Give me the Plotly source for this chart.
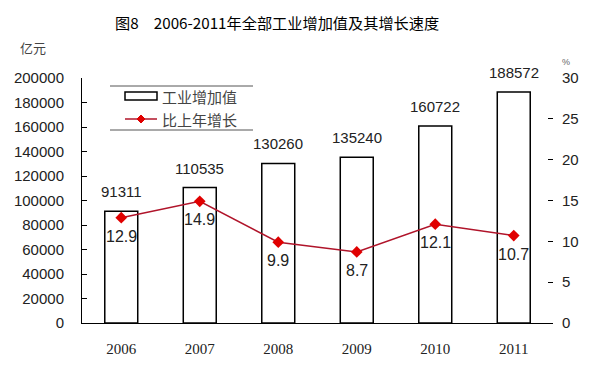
import plotly.graph_objects as go

years = ["2006", "2007", "2008", "2009", "2010", "2011"]
value_added = [91311, 110535, 130260, 135240, 160722, 188572]
growth = [12.9, 14.9, 9.9, 8.7, 12.1, 10.7]
left_ticks = [0, 20000, 40000, 60000, 80000, 100000, 120000, 140000, 160000, 180000, 200000]
right_ticks = [0, 5, 10, 15, 20, 25, 30]

W, H = 600, 369
L, R, T, B = 82, 553, 78, 323

xpos = list(range(len(years)))


def px(x):
    return (x - L) / (R - L)


def py(y):
    return (B - y) / (B - T)


fig = go.Figure()
fig.add_trace(go.Bar(
    x=xpos, y=value_added, name="工业增加值",
    marker=dict(color="white", line=dict(color="black", width=1.5)),
    width=0.42, showlegend=False,
))
fig.add_trace(go.Scatter(
    x=xpos, y=growth, name="比上年增长", yaxis="y2",
    mode="lines+markers",
    line=dict(color="#b0142a", width=1.5),
    marker=dict(symbol="diamond", size=9, color="#e00000"),
    showlegend=False,
))

annotations = []
for i, v in zip(xpos, value_added):
    annotations.append(dict(
        x=i, y=v, xref="x", yref="y", text=str(v), showarrow=False,
        yanchor="bottom", yshift=9,
        font=dict(family="Liberation Sans, Arial", size=15, color="#222"),
    ))
for i, g in zip(xpos, growth):
    annotations.append(dict(
        x=i, y=g, xref="x", yref="y2", text=f"{g:.1f}", showarrow=False,
        yanchor="top", yshift=-8,
        font=dict(family="Liberation Sans, Arial", size=16, color="#222"),
    ))

# title and unit labels
annotations.append(dict(
    x=px(277), y=py(22), xref="paper", yref="paper",
    text="图8　2006-2011年全部工业增加值及其增长速度", showarrow=False,
    font=dict(family="Noto Sans CJK SC", size=15.2, color="black"),
    xanchor="center", yanchor="middle",
))
annotations.append(dict(
    x=px(18), y=py(47), xref="paper", yref="paper", text="亿元",
    showarrow=False, xanchor="left", yanchor="middle",
    font=dict(family="Noto Sans CJK SC", size=13, color="#444"),
))
annotations.append(dict(
    x=px(566), y=py(62), xref="paper", yref="paper", text="%",
    showarrow=False, xanchor="center", yanchor="middle",
    font=dict(family="Liberation Sans", size=9, color="#666"),
))
# legend texts
annotations.append(dict(
    x=px(160), y=py(96), xref="paper", yref="paper", text="工业增加值",
    showarrow=False, xanchor="left", yanchor="middle",
    font=dict(family="Noto Sans CJK SC", size=15, color="#444"),
))
annotations.append(dict(
    x=px(160), y=py(119), xref="paper", yref="paper", text="比上年增长",
    showarrow=False, xanchor="left", yanchor="middle",
    font=dict(family="Noto Sans CJK SC", size=15, color="#444"),
))

shapes = [
    dict(type="line", xref="paper", yref="paper", x0=px(110), x1=px(253),
         y0=py(86), y1=py(86), line=dict(color="#555", width=1)),
    dict(type="line", xref="paper", yref="paper", x0=px(110), x1=px(253),
         y0=py(130), y1=py(130), line=dict(color="#555", width=1)),
    dict(type="rect", xref="paper", yref="paper", x0=px(125), x1=px(157),
         y0=py(92), y1=py(100), line=dict(color="black", width=1.5), fillcolor="white"),
    dict(type="line", xref="paper", yref="paper", x0=px(125), x1=px(157),
         y0=py(119), y1=py(119), line=dict(color="#b0142a", width=1.5)),
    dict(type="path", xref="paper", yref="paper",
         path=f"M {px(137)},{py(119)} L {px(141)},{py(115)} L {px(145)},{py(119)} L {px(141)},{py(123)} Z",
         fillcolor="#e00000", line=dict(color="#e00000", width=1)),
]

fig.update_layout(
    width=W, height=H,
    margin=dict(l=L, r=W - R, t=T, b=H - B, autoexpand=False),
    paper_bgcolor="white", plot_bgcolor="white",
    annotations=annotations, shapes=shapes,
    xaxis=dict(
        range=[-0.5, len(years) - 0.5], tickvals=xpos, ticktext=years,
        showline=True, linecolor="black", linewidth=1,
        ticks="", showgrid=False, zeroline=False, automargin=False,
        tickfont=dict(family="Liberation Serif, Times New Roman", size=15, color="#222"),
        ticklabelstandoff=12,
    ),
    yaxis=dict(
        range=[0, 200000], tickvals=left_ticks, tickformat="d",
        showline=True, linecolor="black", linewidth=1,
        ticks="inside", ticklen=5, tickcolor="black",
        showgrid=False, zeroline=False, automargin=False,
        tickfont=dict(family="Liberation Sans, Arial", size=15, color="#222"),
        ticklabelstandoff=14,
    ),
    yaxis2=dict(
        range=[0, 30], tickvals=right_ticks,
        overlaying="y", side="right",
        showline=False, ticks="inside", ticklen=5, tickcolor="black",
        showgrid=False, zeroline=False, automargin=False,
        tickfont=dict(family="Liberation Sans, Arial", size=15, color="#222"),
        ticklabelstandoff=8,
    ),
)

fig.write_html("out.html", config={"displayModeBar": False},
               post_script="document.body.style.margin='0';")
